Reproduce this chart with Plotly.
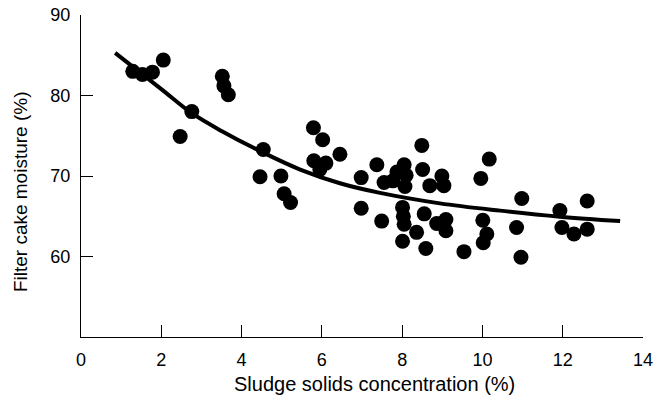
import plotly.graph_objects as go

solids = [1.29, 1.53, 1.78, 2.05, 2.47, 2.76, 3.52, 3.56, 3.67, 4.54,
          4.46, 4.98, 5.06, 5.22, 5.79, 6.02, 6.45, 5.80, 6.10, 5.95,
          6.98, 6.98, 7.37, 7.49, 7.55, 7.77, 7.87, 8.05, 8.10, 8.07,
          8.01, 8.03, 8.05, 8.01, 8.36, 8.49, 8.51, 8.55, 8.59, 8.69,
          8.99, 9.04, 8.86, 9.09, 9.09, 9.54, 9.96, 10.17, 10.01, 10.11,
          10.02, 10.98, 10.85, 10.96, 11.93, 11.98, 12.28, 12.61, 12.61]
moisture = [83.0, 82.6, 82.9, 84.4, 74.9, 78.0, 82.4, 81.2, 80.1, 73.3,
            69.9, 70.0, 67.8, 66.7, 76.0, 74.5, 72.7, 71.9, 71.6, 70.8,
            69.8, 66.0, 71.4, 64.4, 69.2, 69.4, 70.5, 71.4, 70.1, 68.7,
            66.1, 65.0, 64.0, 61.9, 63.0, 73.8, 70.8, 65.3, 61.0, 68.8,
            70.0, 68.8, 64.1, 64.6, 63.2, 60.6, 69.7, 72.1, 64.5, 62.8,
            61.7, 67.2, 63.6, 59.9, 65.7, 63.6, 62.8, 66.9, 63.4]

trend_x = [0.85, 2.0, 2.76, 3.5, 4.54, 5.46, 6.45, 7.45, 8.94, 10.44, 11.93, 13.43]
trend_y = [85.3, 80.8, 77.8, 75.6, 72.9, 70.8, 69.1, 67.9, 66.6, 65.7, 64.95, 64.4]

x_ticks = [0, 2, 4, 6, 8, 10, 12, 14]
y_ticks = [60, 70, 80, 90]
x_title = "Sludge solids concentration (%)"
y_title = "Filter cake moisture (%)"

font = "Liberation Sans, Arial, Helvetica, sans-serif"

fig = go.Figure()
fig.add_trace(go.Scatter(x=trend_x, y=trend_y, mode="lines",
                         line=dict(color="black", width=4, shape="spline", smoothing=1.0),
                         hoverinfo="skip", showlegend=False))
fig.add_trace(go.Scatter(x=solids, y=moisture, mode="markers",
                         marker=dict(color="black", size=15, line=dict(width=0)),
                         showlegend=False))

axis_common = dict(showline=True, linecolor="black", linewidth=1.2,
                   ticks="inside", ticklen=12, tickwidth=1.2, tickcolor="black",
                   showgrid=False, zeroline=False, automargin=False,
                   tickfont=dict(family=font, size=18, color="black"))

fig.update_xaxes(range=[0, 14], tickvals=x_ticks, ticktext=[str(v) for v in x_ticks],
                 ticklabelstandoff=6, **axis_common)
fig.update_yaxes(range=[50, 90], tickvals=y_ticks, ticktext=[str(v) for v in y_ticks],
                 ticklabelstandoff=6, **axis_common)

fig.add_annotation(text=x_title, xref="paper", yref="paper", x=0.523, y=-0.146,
                   xanchor="center", yanchor="middle", showarrow=False,
                   font=dict(family=font, size=20, color="black"))
fig.add_annotation(text=y_title, xref="paper", yref="paper", x=-0.1085, y=0.45,
                   xanchor="center", yanchor="middle", showarrow=False, textangle=-90,
                   font=dict(family=font, size=19, color="black"))

fig.update_layout(width=656, height=406, margin=dict(l=81, r=13, t=15, b=69),
                  plot_bgcolor="white", paper_bgcolor="white",
                  font=dict(family=font, size=18, color="black"))

fig.write_html("out.html")
